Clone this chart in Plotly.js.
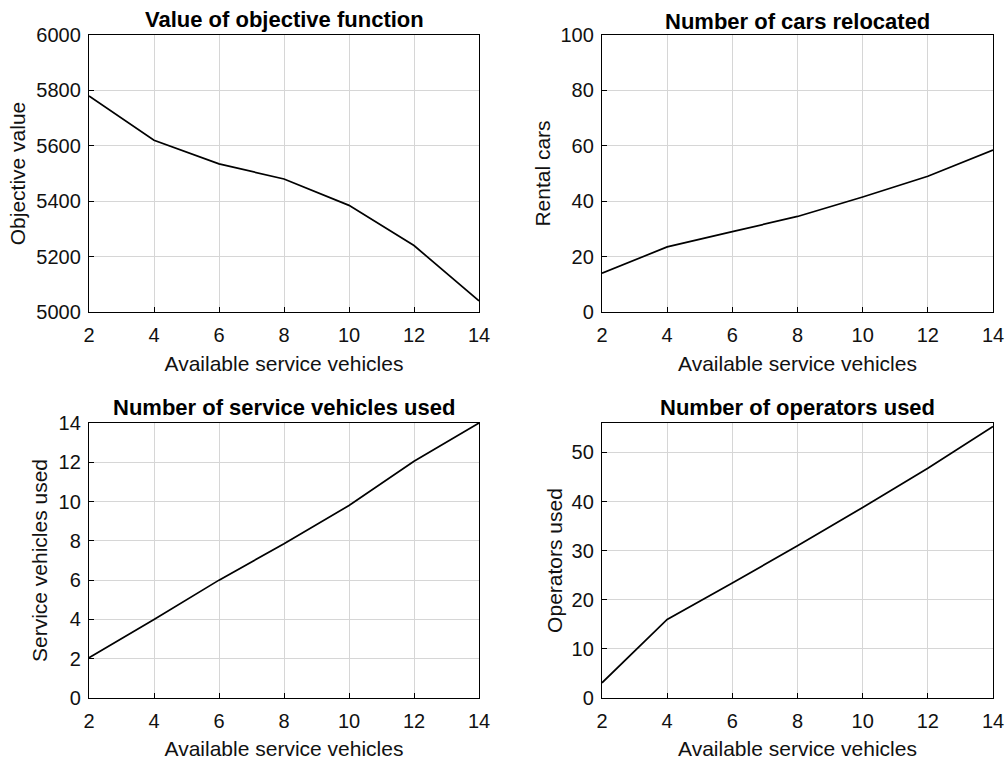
<!DOCTYPE html>
<html>
<head>
<meta charset="utf-8">
<script src="https://cdn.plot.ly/plotly-3.0.1.min.js"></script>
<style>html,body{margin:0;padding:0;background:#fff;}#chart{width:1005px;height:760px;}</style>
</head>
<body>
<div id="chart"></div>
<script>
const availableVehicles = [2, 4, 6, 8, 10, 12, 14];
const objectiveValue = [5780, 5620, 5535, 5480, 5385, 5240, 5040];
const carsRelocated = [14, 23.5, 29, 34.5, 41.5, 49, 58.5];
const serviceVehiclesUsed = [2.05, 4, 6, 7.85, 9.8, 12.05, 14];
const operatorsUsed = [3.1, 16, 23.4, 31, 38.8, 46.8, 55.3];

const panelTitles = ["Value of objective function", "Number of cars relocated", "Number of service vehicles used", "Number of operators used"];
const yTitles = ["Objective value", "Rental cars", "Service vehicles used", "Operators used"];
const xTitle = "Available service vehicles";

const FONT = "Liberation Sans, Arial, sans-serif";
const W = 1005, H = 760;
function px(x) { return x / W; }
function py(y) { return 1 - y / H; }

const xDomL = [px(89), px(479)];
const xDomR = [px(602), px(993)];
const yDomT = [py(312), py(35)];
const yDomB = [py(698), py(423)];

function lineTrace(y, xa, ya) {
  return { x: availableVehicles, y: y, xaxis: xa, yaxis: ya, mode: "lines", type: "scatter",
    line: { color: "#000", width: 1.7 }, showlegend: false, hoverinfo: "x+y" };
}

const data = [
  lineTrace(objectiveValue, "x", "y"),
  lineTrace(carsRelocated, "x2", "y2"),
  lineTrace(serviceVehiclesUsed, "x3", "y3"),
  lineTrace(operatorsUsed, "x4", "y4")
];

function xAxis(dom, anchor, standoff) {
  return { domain: dom, anchor: anchor, range: [2, 14], tickvals: availableVehicles, ticktext: availableVehicles.map(String),
    showgrid: true, gridcolor: "#d6d6d6", gridwidth: 1, zeroline: false,
    showline: true, linecolor: "#000", linewidth: 1.2, mirror: true,
    ticks: "inside", ticklen: 5, tickcolor: "#000",
    ticklabelstandoff: 5,
    tickfont: { family: FONT, size: 20, color: "#111" },
    title: { text: xTitle, font: { family: FONT, size: 21, color: "#111" }, standoff: standoff } };
}
function yAxis(dom, anchor, range, dtick, title, standoff) {
  return { domain: dom, anchor: anchor, range: range, dtick: dtick, tick0: 0,
    showgrid: true, gridcolor: "#d6d6d6", gridwidth: 1, zeroline: false,
    showline: true, linecolor: "#000", linewidth: 1.2, mirror: true,
    ticks: "inside", ticklen: 5, tickcolor: "#000",
    ticklabelstandoff: 3,
    tickfont: { family: FONT, size: 20, color: "#111" },
    title: { text: title, font: { family: FONT, size: 21, color: "#111" }, standoff: standoff } };
}

const layout = {
  width: W, height: H,
  margin: { l: 0, r: 0, t: 0, b: 0 },
  paper_bgcolor: "#fff", plot_bgcolor: "#fff",
  showlegend: false,
  xaxis: xAxis(xDomL, "y", 11),
  yaxis: yAxis(yDomT, "x", [5000, 6000], 200, yTitles[0], 5),
  xaxis2: xAxis(xDomR, "y2", 11),
  yaxis2: yAxis(yDomT, "x2", [0, 100], 20, yTitles[1], 4),
  xaxis3: xAxis(xDomL, "y3", 13),
  yaxis3: yAxis(yDomB, "x3", [0, 14], 2, yTitles[2], 5),
  xaxis4: xAxis(xDomR, "y4", 13),
  yaxis4: yAxis(yDomB, "x4", [0, 56], 10, yTitles[3], 3),
  annotations: [
    { text: "<b>" + panelTitles[0] + "</b>", x: (xDomL[0] + xDomL[1]) / 2, y: py(20), xref: "paper", yref: "paper", showarrow: false, xanchor: "center", yanchor: "middle", font: { family: FONT, size: 22, color: "#000" } },
    { text: "<b>" + panelTitles[1] + "</b>", x: (xDomR[0] + xDomR[1]) / 2, y: py(21), xref: "paper", yref: "paper", showarrow: false, xanchor: "center", yanchor: "middle", font: { family: FONT, size: 22, color: "#000" } },
    { text: "<b>" + panelTitles[2] + "</b>", x: (xDomL[0] + xDomL[1]) / 2, y: py(407), xref: "paper", yref: "paper", showarrow: false, xanchor: "center", yanchor: "middle", font: { family: FONT, size: 22, color: "#000" } },
    { text: "<b>" + panelTitles[3] + "</b>", x: (xDomR[0] + xDomR[1]) / 2, y: py(407), xref: "paper", yref: "paper", showarrow: false, xanchor: "center", yanchor: "middle", font: { family: FONT, size: 22, color: "#000" } }
  ]
};

Plotly.newPlot("chart", data, layout, { staticPlot: true, displayModeBar: false });
</script>
</body>
</html>
